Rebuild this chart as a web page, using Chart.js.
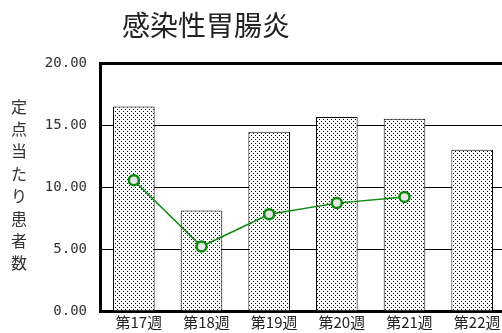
<!DOCTYPE html>
<html>
<head>
<meta charset="utf-8">
<script src="https://cdn.jsdelivr.net/npm/chart.js@4/dist/chart.umd.min.js"></script>
<style>
html,body{margin:0;padding:0;background:#fff;overflow:hidden;width:502px;height:333px;}
#wrap{position:absolute;left:0;top:0;width:520px;height:333px;}
</style>
</head>
<body>
<div id="wrap"><canvas id="c" width="520" height="333"></canvas></div>
<script>
const chartTitle = '感染性胃腸炎';
const yAxisTitle = '定点当たり患者数';
const categories = ['第17週','第18週','第19週','第20週','第21週','第22週'];
const barValues = [16.5, 8.1, 14.45, 15.65, 15.5, 13.0];
const lineValues = [10.55, 5.2, 7.8, 8.7, 9.2, null];
const yTicks = [0, 5, 10, 15, 20];

// dotted fill pattern
const pc = document.createElement('canvas');
pc.width = 4; pc.height = 4;
const pctx = pc.getContext('2d');
pctx.fillStyle = '#fff';
pctx.fillRect(0,0,4,4);
pctx.fillStyle = '#000';
pctx.fillRect(1,1,1,1);
pctx.fillRect(3,3,1,1);
const ctx = document.getElementById('c').getContext('2d');
const dotPattern = ctx.createPattern(pc, 'repeat');

const textPlugin = {
  id: 'texts',
  afterDraw(chart) {
    const c = chart.ctx;
    c.save();
    c.fillStyle = '#222';
    c.font = '28px "Noto Sans CJK JP"';
    c.textAlign = 'center';
    c.textBaseline = 'middle';
    c.fillText(chartTitle, 206, 25);
    c.fillStyle = '#333';
    c.font = '16px "Noto Sans CJK JP"';
    const chars = Array.from(yAxisTitle);
    chars.forEach((ch, i) => c.fillText(ch, 19, 106.5 + i * 22.4));
    c.restore();
  }
};

new Chart(ctx, {
  data: {
    labels: categories,
    datasets: [
      {
        type: 'line',
        data: lineValues,
        order: 0,
        borderColor: '#0b8a0b',
        borderWidth: 1.5,
        pointRadius: 5,
        pointBorderWidth: 2.5,
        pointBorderColor: '#0b8a0b',
        pointBackgroundColor: '#e6e6e6',
        spanGaps: false,
        tension: 0
      },
      {
        type: 'bar',
        data: barValues,
        order: 1,
        backgroundColor: dotPattern,
        borderColor: '#000',
        borderWidth: 1,
        categoryPercentage: 1,
        barPercentage: 0.615
      }
    ]
  },
  options: {
    responsive: false,
    animation: false,
    devicePixelRatio: 1,
    layout: { padding: { left: 0, top: 63, right: 14, bottom: 0 } },
    plugins: { legend: { display: false }, tooltip: { enabled: false }, title: { display: false } },
    scales: {
      x: {
        offset: true,
        grid: { display: false, drawTicks: false },
        border: { display: true, color: '#000', width: 3 },
        ticks: { color: '#222', font: { family: '"Noto Sans CJK JP"', size: 15 }, padding: 2, labelOffset: 5, maxRotation: 0, autoSkip: false },
        afterFit(s) { s.height = 22; }
      },
      y: {
        min: 0, max: 20,
        afterBuildTicks(s) { s.ticks = yTicks.map(v => ({ value: v })); },
        grid: { color: '#000', lineWidth: c => (c.tick && c.tick.value === 20) ? 3 : 1, drawTicks: false },
        border: { display: true, color: '#000', width: 3 },
        ticks: { color: '#333', font: { family: '"DejaVu Sans Mono"', size: 14 }, padding: 13, callback: v => Number(v).toFixed(2) },
        afterFit(s) { s.width = 100; }
      }
    }
  },
  plugins: [textPlugin]
});
</script>
</body>
</html>
